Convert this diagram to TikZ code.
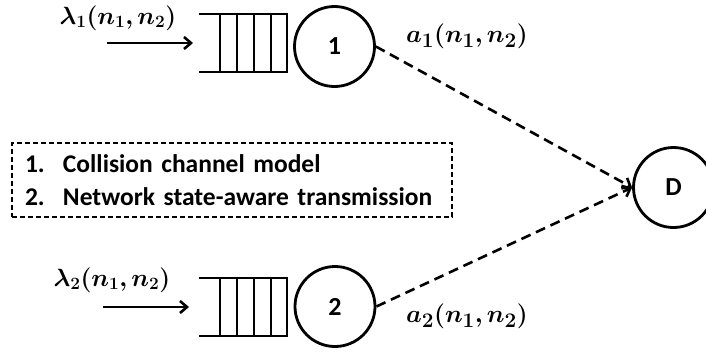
\documentclass[tikz,border=0pt]{standalone}
\usepackage{amsmath,bm}
\usepackage{fontspec}
\setmainfont{Carlito}
\usetikzlibrary{arrows.meta}
\tikzset{
  srv/.style={circle, draw, line width=2.8pt, minimum size=80pt, inner sep=0pt, font=\fontsize{26}{30}\selectfont\bfseries},
  qline/.style={line width=2.6pt},
  inarrow/.style={line width=2.6pt, -{Straight Barb[length=7pt,width=12pt]}},
  link/.style={line width=2.6pt, dash pattern=on 10pt off 6pt, -{Straight Barb[length=7pt,width=12pt]}},
  mlabel/.style={inner sep=0pt, font=\fontsize{25}{29}\selectfont},
  alabel/.style={inner sep=0pt, font=\fontsize{28}{32}\selectfont},
}
\begin{document}
\begin{tikzpicture}[x=1pt,y=-1pt]
\useasboundingbox[clip] (0,0) rectangle (706,354);
% servers
\node[srv] (c1) at (334.5,46.5) {1};
\node[srv] (c2) at (335,306.5) {2};
\node[srv] (D) at (673.5,187.5) {D};
% queue 1
\coordinate (q1) at (199,43);
\draw[qline] (199,14) -- (287,14) -- (287,72) -- (199,72);
\foreach \x in {220,237,254,271} \draw[qline] (\x,14) -- (\x,72);
\coordinate (s1) at (107,43);
\draw[inarrow] (s1) -- ([xshift=-6pt]q1);
% queue 2
\coordinate (q2) at (199,307);
\draw[qline] (199,278) -- (287,278) -- (287,336) -- (199,336);
\foreach \x in {220,237,254,271} \draw[qline] (\x,278) -- (\x,336);
\coordinate (s2) at (103,307);
\draw[inarrow] (s2) -- ([xshift=-10pt]q2);
% links
\draw[link] (c1.east) -- (D.west);
\draw[link] (c2.east) -- (D.west);
% labels
\node[mlabel] (l1) at (118,18) {$\bm{\lambda_1(n_1,n_2)}$};
\node[mlabel] (l2) at (112,280) {$\bm{\lambda_2(n_1,n_2)}$};
\node[alabel] (a1) at (467,36) {$\bm{a_1(n_1,n_2)}$};
\node[alabel] (a2) at (467,316) {$\bm{a_2(n_1,n_2)}$};
% box
\node[draw, line width=1.5pt, dash pattern=on 5pt off 3pt, minimum width=440pt, minimum height=74pt,
      inner xsep=13pt, inner ysep=0pt, text width=414pt, align=left,
      font=\fontsize{25.5}{33}\selectfont\bfseries] (box) at (232,180)
  {\hyphenpenalty=10000\relax\makebox[38pt][l]{1.}Collision channel model\\\makebox[38pt][l]{2.}Network state-aware transmission};
\end{tikzpicture}
\end{document}
